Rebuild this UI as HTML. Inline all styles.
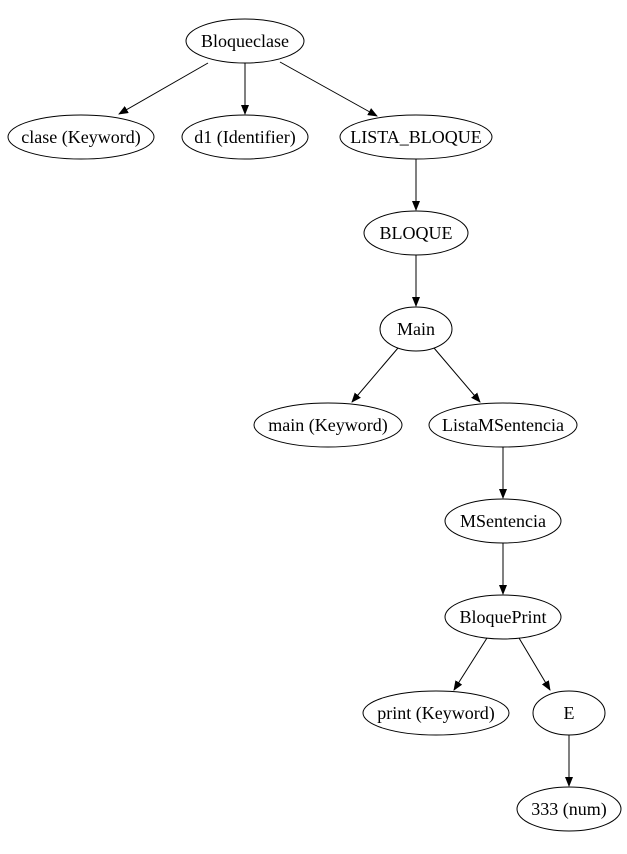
<!DOCTYPE html>
<html><head><meta charset="utf-8"><style>html,body{margin:0;padding:0;background:#fff}</style></head>
<body>
<svg width="627" height="849" viewBox="0 0 627 849" xmlns="http://www.w3.org/2000/svg">
<defs><marker id="a" markerWidth="10" markerHeight="8" refX="9" refY="4" orient="auto" markerUnits="userSpaceOnUse"><path d="M0,0 L10,4 L0,8 z" fill="#000"/></marker></defs>
<g fill="none" stroke="#000" stroke-width="1">
<ellipse cx="245" cy="41" rx="59" ry="22"/>
<ellipse cx="81" cy="137" rx="73" ry="22"/>
<ellipse cx="245" cy="137" rx="63" ry="22"/>
<ellipse cx="416" cy="137" rx="76" ry="22"/>
<ellipse cx="416" cy="233" rx="52" ry="22"/>
<ellipse cx="416" cy="329" rx="36" ry="22"/>
<ellipse cx="328" cy="425" rx="74" ry="22"/>
<ellipse cx="503" cy="425" rx="74" ry="22"/>
<ellipse cx="503" cy="521" rx="58" ry="22"/>
<ellipse cx="503" cy="617" rx="58" ry="22"/>
<ellipse cx="436" cy="713" rx="73" ry="22"/>
<ellipse cx="569" cy="713" rx="36" ry="22"/>
<ellipse cx="569" cy="809" rx="52" ry="22"/>
<g marker-end="url(#a)">
<line x1="208" y1="63" x2="119" y2="114"/>
<line x1="245" y1="63" x2="245" y2="114"/>
<line x1="280" y1="62" x2="377" y2="116"/>
<line x1="416" y1="159" x2="416" y2="210"/>
<line x1="416" y1="255" x2="416" y2="306"/>
<line x1="398" y1="348" x2="352" y2="402"/>
<line x1="434" y1="348" x2="480" y2="402"/>
<line x1="503" y1="447" x2="503" y2="498"/>
<line x1="503" y1="543" x2="503" y2="594"/>
<line x1="487" y1="638" x2="454" y2="690"/>
<line x1="519" y1="638" x2="550" y2="690"/>
<line x1="569" y1="735" x2="569" y2="786"/>
</g></g>
<g font-family="Liberation Serif, serif" font-size="18" text-anchor="middle" fill="#000">
<text x="245" y="47">Bloqueclase</text>
<text x="81" y="143">clase (Keyword)</text>
<text x="245" y="143">d1 (Identifier)</text>
<text x="416" y="143">LISTA_BLOQUE</text>
<text x="416" y="239">BLOQUE</text>
<text x="416" y="335">Main</text>
<text x="328" y="431">main (Keyword)</text>
<text x="503" y="431">ListaMSentencia</text>
<text x="503" y="527">MSentencia</text>
<text x="503" y="623">BloquePrint</text>
<text x="436" y="719">print (Keyword)</text>
<text x="569" y="719">E</text>
<text x="569" y="815">333 (num)</text>
</g>
</svg>
</body></html>
